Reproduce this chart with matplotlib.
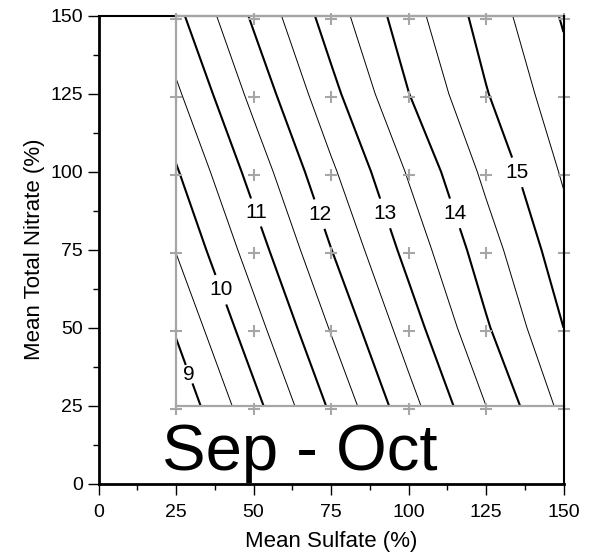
import numpy as np
import matplotlib
matplotlib.use("Agg")
import matplotlib.pyplot as plt
from matplotlib.transforms import ScaledTranslation

plt.rcParams['font.family'] = ['Liberation Sans', 'DejaVu Sans']

# Grid of model points (Mean Sulfate %, Mean Total Nitrate %)
sulfate = [25, 50, 75, 100, 125, 150]
nitrate = [25, 50, 75, 100, 125, 150]
# Response values, rows = nitrate, cols = sulfate
z_values = [
    [8.61, 9.84, 11.08, 12.31, 13.50, 14.64],   # nitrate 25
    [9.06, 10.30, 11.54, 12.75, 13.94, 15.00],  # nitrate 50
    [9.52, 10.75, 11.99, 13.17, 14.27, 15.29],  # nitrate 75
    [9.95, 11.19, 12.41, 13.55, 14.62, 15.56],  # nitrate 100
    [10.41, 11.65, 12.85, 13.99, 14.97, 15.81], # nitrate 125
    [10.86, 12.08, 13.24, 14.29, 15.21, 16.05], # nitrate 150
]
major_levels = [9, 10, 11, 12, 13, 14, 15, 16]
minor_levels = [8.5, 9.5, 10.5, 11.5, 12.5, 13.5, 14.5, 15.5]
labelled_levels = [9, 10, 11, 12, 13, 14, 15]
label_positions = [(29, 35), (39, 62), (49.5, 86.5), (71.5, 86.5), (92, 86.5), (114.5, 86.5), (134, 99.5)]
tick_values = [0, 25, 50, 75, 100, 125, 150]
panel_title = "Sep - Oct"

X, Y = np.meshgrid(sulfate, nitrate)
Z = np.array(z_values)

fig = plt.figure(figsize=(5.89, 5.52), dpi=100)
ax = fig.add_axes([98.5 / 589, (552 - 483.6) / 552, 465 / 589, 467.7 / 552])
ax.set_xlim(0, 150)
ax.set_ylim(0, 150)

# thin (half) contours
ax.contour(X, Y, Z, levels=minor_levels, colors='black', linewidths=0.7, zorder=3)
# thick (integer) contours
cs = ax.contour(X, Y, Z, levels=major_levels, colors='black', linewidths=1.5, zorder=3)
texts = ax.clabel(cs, levels=labelled_levels, fmt='%d', fontsize=15,
                  inline=True, inline_spacing=4, manual=label_positions)
for t in texts:
    t.set_rotation(0)

# grey frame of the data region
grey = '#a6a6a6'
ax.plot([25, 25], [25, 150], color=grey, lw=1.6, zorder=4, clip_on=False)
ax.plot([25, 150], [25, 25], color=grey, lw=1.6, zorder=4, clip_on=False)
ax.plot([25, 150], [150, 150], color=grey, lw=1.6, zorder=6, clip_on=False)

# grid point markers
off = ScaledTranslation(0, -3.5 / 100, fig.dpi_scale_trans)
ax.plot(X.ravel(), Y.ravel(), linestyle='none', marker='+', markersize=8,
        markeredgewidth=1.5, color=grey, zorder=5, clip_on=False,
        transform=ax.transData + off)

ax.text(20.5, 4.4, panel_title, fontsize=47, ha='left', va='baseline', zorder=7)

ax.set_xticks(tick_values)
ax.set_yticks(tick_values)
ax.set_xticks(np.arange(12.5, 150, 25), minor=True)
ax.set_yticks(np.arange(12.5, 150, 25), minor=True)
ax.tick_params(which='major', direction='out', length=8, width=1, labelsize=14)
ax.tick_params(which='minor', direction='out', length=4, width=1)
ax.tick_params(axis='x', which='major', pad=7)
ax.tick_params(axis='y', which='major', pad=3)

ax.set_xlabel('Mean Sulfate (%)', fontsize=16, labelpad=7)
ax.set_ylabel('Mean Total Nitrate (%)', fontsize=16, labelpad=4)

for side in ['left', 'bottom']:
    ax.spines[side].set_linewidth(2)
for side in ['top', 'right']:
    ax.spines[side].set_linewidth(1.5)
ax.spines['right'].set_zorder(8)

fig.savefig('out.png', dpi=100)
